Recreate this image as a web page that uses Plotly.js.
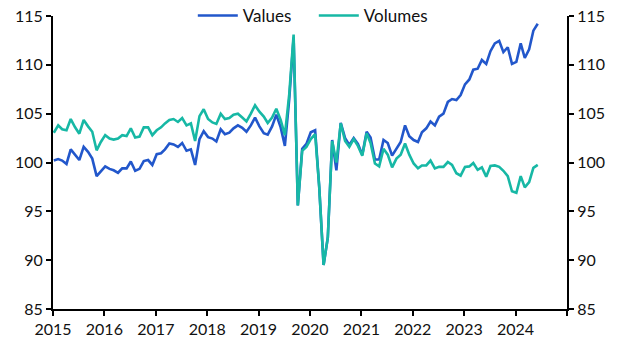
<!DOCTYPE html>
<html>
<head>
<meta charset="utf-8">
<script src="https://cdn.plot.ly/plotly-3.0.1.min.js"></script>
<style>
  html, body { margin: 0; padding: 0; background: #fff; }
  #chart { width: 630px; height: 355px; }
</style>
</head>
<body>
<div id="chart"></div>
<script>
// Monthly index levels, Jan 2015 – Jun 2024
const startYear = 2015;
const values = [
  100.2, 100.35, 100.2, 99.85, 101.35, 100.75, 100.25, 101.6, 101.1, 100.4, 98.6, 99.1,
  99.6, 99.35, 99.2, 98.95, 99.4, 99.4, 100.1, 99.15, 99.35, 100.15, 100.25, 99.75,
  100.85, 100.95, 101.35, 101.95, 101.85, 101.6, 102.0, 101.2, 101.35, 99.75, 102.4, 103.2,
  102.6, 102.45, 102.15, 103.4, 102.9, 103.05, 103.5, 103.8, 103.55, 103.15, 103.8, 104.6,
  103.7, 103.0, 102.85, 103.7, 104.9, 103.6, 101.7, 106.5, 112.8, 95.6, 101.4, 101.9,
  103.1, 103.3, 97.5, 89.5, 92.3, 102.3, 99.2, 104.05, 102.5, 101.8, 102.5, 101.9,
  100.8, 103.15, 102.55, 100.3, 100.3, 102.3, 102.0, 100.7, 101.4, 102.1, 103.8, 102.7,
  102.3, 102.1, 103.1, 103.5, 104.2, 103.8, 104.7, 105.0, 106.2, 106.5, 106.4, 106.9,
  108.0, 108.5, 109.5, 109.6, 110.5, 110.1, 111.4, 112.2, 112.45, 111.3, 111.8, 110.1,
  110.3, 112.2, 110.7, 111.6, 113.5, 114.2
];
const volumes = [
  103.05, 103.8, 103.4, 103.3, 104.45, 103.6, 102.95, 104.35, 103.7, 103.15, 101.25, 102.1,
  102.8, 102.45, 102.35, 102.45, 102.8, 102.7, 103.5, 102.55, 102.65, 103.6, 103.6, 102.8,
  103.3, 103.6, 104.0, 104.35, 104.45, 104.15, 104.55, 103.8, 104.0, 102.2, 104.75, 105.45,
  104.45, 104.1, 103.95, 105.0, 104.45, 104.55, 104.9, 105.0, 104.6, 104.2, 105.0, 105.85,
  105.2, 104.7, 104.05, 104.6, 105.5, 104.35, 102.8, 107.0, 113.1, 95.6, 101.2, 101.6,
  102.4, 102.9, 97.5, 89.5, 92.3, 102.2, 100.0, 104.0, 102.2, 101.6, 102.4, 101.7,
  100.7, 103.0, 102.0, 99.9, 99.6, 101.4, 100.8, 99.5, 100.4, 100.8, 101.95, 100.8,
  99.9, 99.4, 99.7, 99.7, 100.2, 99.4, 99.55, 99.55, 100.05, 99.75, 98.9, 98.65,
  99.55, 99.6, 99.95, 99.25, 99.5, 98.55, 99.65, 99.7, 99.55, 99.15, 98.6, 97.05,
  96.9, 98.6, 97.45, 98.0, 99.45, 99.75
];
const yearTicks = ['2015','2016','2017','2018','2019','2020','2021','2022','2023','2024',''];
const yTicks = [85, 90, 95, 100, 105, 110, 115];

const dates = values.map((_, i) => {
  const y = startYear + Math.floor(i / 12);
  const m = (i % 12) + 1;
  return y + '-' + String(m).padStart(2, '0') + '-07';
});
const tickDates = yearTicks.map((_, i) => (startYear + i) + '-01-01');

const FONT = 'Lato, "Open Sans", sans-serif';
const traces = [
  { x: dates, y: values, name: 'Values', type: 'scatter', mode: 'lines',
    line: { color: '#2257CB', width: 2.6 }, yaxis: 'y' },
  { x: dates, y: volumes, name: 'Volumes', type: 'scatter', mode: 'lines',
    line: { color: '#17B8A5', width: 2.6 }, yaxis: 'y2' }
];

const yCommon = {
  range: [85, 115], tickmode: 'array', tickvals: yTicks,
  showgrid: false, zeroline: false, showline: true,
  linecolor: '#000', linewidth: 2, ticks: 'outside', ticklen: 5, tickwidth: 2,
  tickcolor: '#000', tickfont: { family: FONT, size: 16, color: '#111' }
};

const layout = {
  width: 630, height: 355,
  margin: { l: 53, r: 63, t: 16, b: 46, autoexpand: false },
  paper_bgcolor: '#fff', plot_bgcolor: '#fff',
  showlegend: true,
  legend: { orientation: 'h', x: 0.272, xanchor: 'left', y: 1.0, yanchor: 'middle',
            font: { family: FONT, size: 17, color: '#111' }, bgcolor: 'rgba(0,0,0,0)',
            itemwidth: 40, entrywidth: 66, entrywidthmode: 'pixels', traceorder: 'normal' },
  xaxis: {
    type: 'date', range: ['2015-01-01', '2025-01-01'],
    tickmode: 'array', tickvals: tickDates, ticktext: yearTicks,
    showgrid: false, zeroline: false, showline: true, linecolor: '#000', linewidth: 2,
    ticks: 'outside', ticklen: 5, tickwidth: 2, tickcolor: '#000',
    tickfont: { family: FONT, size: 16, color: '#111' }
  },
  yaxis: Object.assign({ side: 'left' }, yCommon),
  yaxis2: Object.assign({ side: 'right', overlaying: 'y' }, yCommon)
};

Plotly.newPlot('chart', traces, layout, { displayModeBar: false, staticPlot: true });
</script>
</body>
</html>
